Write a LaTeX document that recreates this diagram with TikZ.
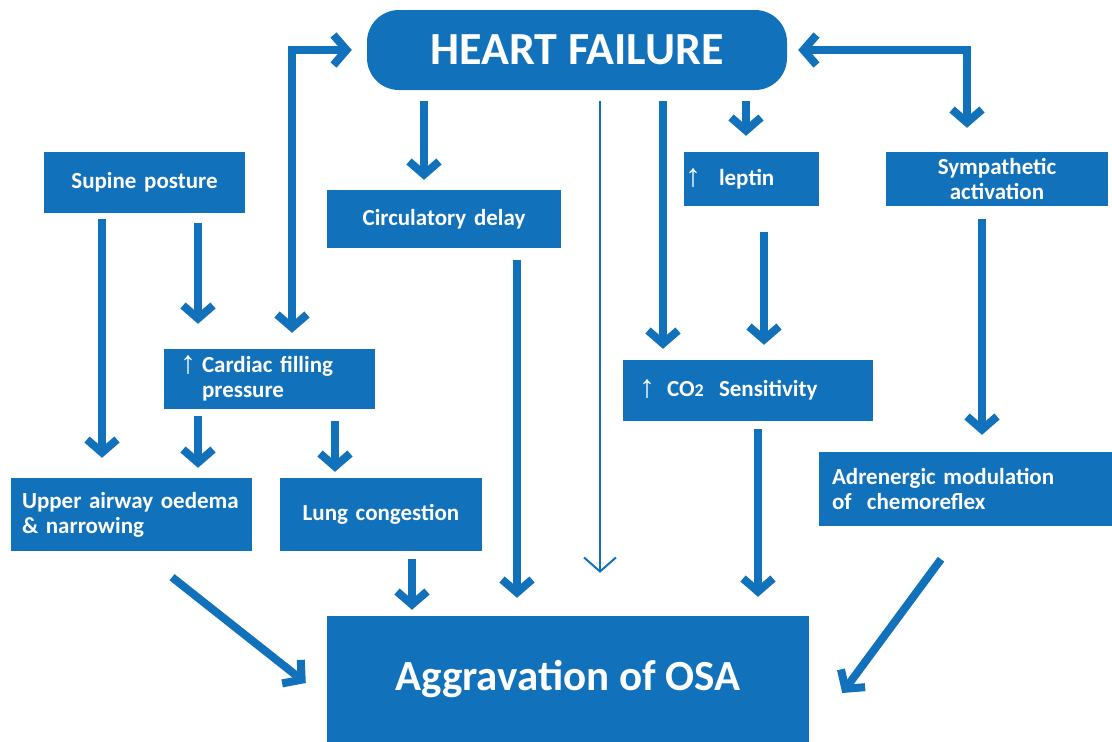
\documentclass[tikz,border=0pt]{standalone}
\usepackage{fontspec}
\setmainfont{Carlito}
\newfontfamily\arrowfont{Liberation Sans}
\usetikzlibrary{arrows.meta}
\definecolor{hfblue}{RGB}{17,114,187}
\newcommand{\up}[1]{\makebox[#1][l]{\makebox[0pt][c]{\smash{\raisebox{-1pt}{\arrowfont\fontsize{32}{32}\selectfont ↑}}}}}
\begin{document}
\begin{tikzpicture}[x=1pt,y=-1pt,
  box/.style={fill=hfblue, text=white, inner ysep=0pt,
    font=\bfseries\fontsize{23}{25}\selectfont},
  arr/.style={draw=hfblue, line width=8pt, -{Straight Barb[length=13pt,width=30pt]}},
  darr/.style={draw=hfblue, line width=8pt, {Straight Barb[length=13pt,width=30pt]}-{Straight Barb[length=13pt,width=30pt]}},
  thinarr/.style={draw=hfblue, line width=2pt, -{Straight Barb[length=14pt,width=32pt]}}
]
\useasboundingbox (0,0) rectangle (1112,742);

% nodes
\node[box, rounded corners=32pt, minimum width=420pt, minimum height=80pt, inner xsep=0pt,
  font=\bfseries\fontsize{46}{46}\selectfont] (hf) at (577,50) {HEART FAILURE};
\node[box, minimum width=201pt, minimum height=61pt, inner xsep=5pt, text width=191pt, align=center] (sup) at (144.5,182.5) {Supine posture};
\node[box, minimum width=234pt, minimum height=58pt, inner xsep=5pt, text width=224pt, align=center] (circ) at (444,219) {Circulatory delay};
\node[box, minimum height=54pt, inner xsep=9pt, text width=117pt, align=left] (lep) at (751.5,179) {\up{26pt}leptin};
\node[box, minimum height=54pt, inner xsep=5pt, text width=212pt, align=center] (sym) at (997,179) {Sympathetic\\activation};
\node[box, minimum height=60pt, inner xsep=24pt, text width=163pt, align=left] (cf) at (269.5,379) {\up{14pt}Cardiac~filling\\\hspace*{14pt}pressure};
\node[box, minimum height=61pt, inner xsep=24pt, text width=202pt, align=left] (co) at (748,390.5) {\up{20pt}CO{\fontsize{18}{18}\selectfont 2}\ \ Sensitivity};
\node[box, minimum height=73pt, inner xsep=11pt, text width=219pt, align=left] (ua) at (131.5,514.5) {Upper~airway~oedema\\\&~narrowing};
\node[box, minimum width=202pt, minimum height=73pt, inner xsep=5pt, text width=192pt, align=center] (lung) at (381,514.5) {Lung congestion};
\node[box, minimum height=74pt, inner xsep=13pt, text width=267pt, align=left] (adr) at (965.5,489) {Adrenergic~modulation\\of\ \ chemoreflex};
\node[box, minimum width=482pt, minimum height=126pt, inner xsep=0pt,
  font=\bfseries\fontsize{43}{43}\selectfont] (osa) at (568,679) {Aggravation of OSA};

% connectors
\draw[darr, shorten <=16pt, shorten >=15pt] ([xshift=22.5pt]cf.north) |- (hf.west);
\draw[darr, shorten <=11pt, shorten >=24pt] (hf.east) -| ([xshift=-30pt]sym.north);
\draw[arr, shorten <=11pt, shorten >=10pt] ([xshift=-153pt]hf.south) -- ([xshift=-20pt]circ.north);
\draw[thinarr, shorten <=11pt, shorten >=43pt] ([xshift=23pt]hf.south) -- ([xshift=32pt]osa.north);
\draw[arr, shorten <=11pt, shorten >=11pt] ([xshift=86pt]hf.south) -- ([xshift=-85pt]co.north);
\draw[arr, shorten <=11pt, shorten >=16pt] ([xshift=169pt]hf.south) -- ([xshift=-5.5pt]lep.north);
\draw[arr, shorten <=26pt, shorten >=15pt] ([xshift=12.5pt]lep.south) -- ([xshift=16pt]co.north);
\draw[arr, shorten <=13pt, shorten >=17pt] ([xshift=-15pt]sym.south) -- ([xshift=16.5pt]adr.north);
\draw[arr, shorten <=6pt, shorten >=20pt] ([xshift=-42.5pt]sup.south) -- ([xshift=-29.5pt]ua.north);
\draw[arr, shorten <=10pt, shorten >=25pt] ([xshift=53.5pt]sup.south) -- ([xshift=-71.5pt]cf.north);
\draw[arr, shorten <=7pt, shorten >=10pt] ([xshift=-71.5pt]cf.south) -- ([xshift=66.5pt]ua.north);
\draw[arr, shorten <=12pt, shorten >=6pt] ([xshift=65.5pt]cf.south) -- ([xshift=-46pt]lung.north);
\draw[arr, shorten <=12pt, shorten >=18pt] ([xshift=73pt]circ.south) -- ([xshift=-51pt]osa.north);
\draw[arr, shorten <=8pt, shorten >=6pt] ([xshift=31pt]lung.south) -- ([xshift=-156pt]osa.north);
\draw[arr, shorten <=8pt, shorten >=19pt] ([xshift=10pt]co.south) -- ([xshift=190pt]osa.north);
\draw[arr] ([xshift=40.5pt,yshift=-26pt]ua.south) -- ([xshift=-21pt,yshift=-4pt]osa.west);
\draw[arr] ([xshift=-24.5pt,yshift=-33pt]adr.south) -- ([xshift=33pt,yshift=-14pt]osa.east);
\end{tikzpicture}
\end{document}
